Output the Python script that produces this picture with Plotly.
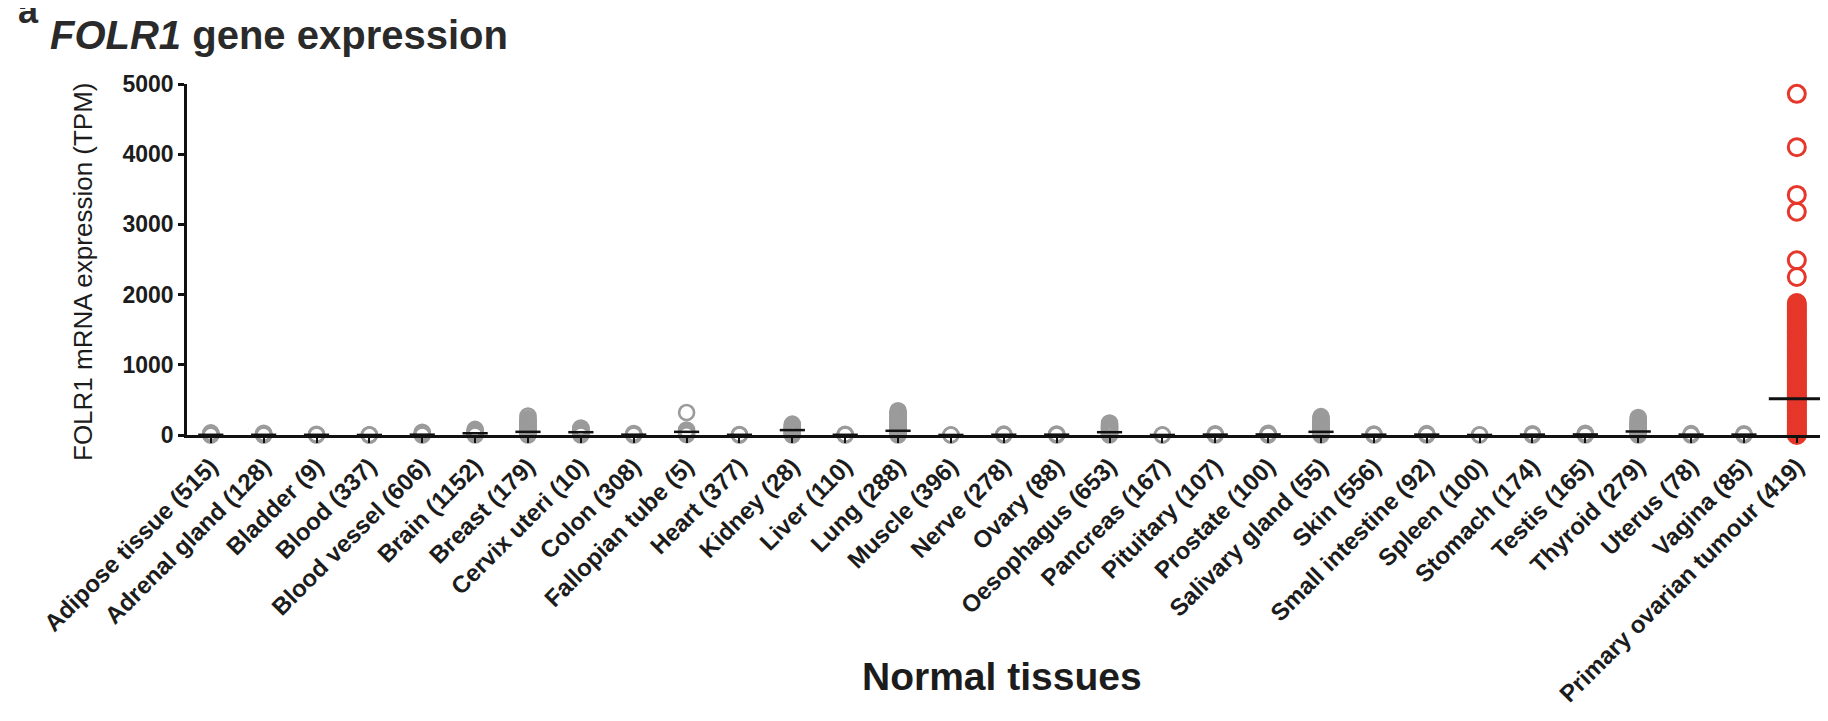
import plotly.graph_objects as go

# ---------------- data (TPM) ----------------
categories = [
    "Adipose tissue (515)", "Adrenal gland (128)", "Bladder (9)", "Blood (337)",
    "Blood vessel (606)", "Brain (1152)", "Breast (179)", "Cervix uteri (10)",
    "Colon (308)", "Fallopian tube (5)", "Heart (377)", "Kidney (28)", "Liver (110)",
    "Lung (288)", "Muscle (396)", "Nerve (278)", "Ovary (88)", "Oesophagus (653)",
    "Pancreas (167)", "Pituitary (107)", "Prostate (100)", "Salivary gland (55)",
    "Skin (556)", "Small intestine (92)", "Spleen (100)", "Stomach (174)",
    "Testis (165)", "Thyroid (279)", "Uterus (78)", "Vagina (85)",
    "Primary ovarian tumour (419)",
]

adipose = [0, 2, 5, 10, 18, 30]
adrenal = [0, 3, 8, 15, 25]
bladder = [0, 4, 10]
blood = [0, 1, 3]
blood_vessel = [0, 5, 12, 25, 40]
brain = [0, 10, 20, 35, 50, 65, 80]
breast = [0, 12, 25, 40, 52, 66, 80, 95, 108, 122, 136, 150, 165, 180, 195, 212, 235, 270]
cervix = [0, 12, 25, 40, 55, 70, 85, 100]
colon = [0, 5, 12, 22]
fallopian = [5, 20, 45, 70, 320]
heart = [0, 3, 8]
kidney = [0, 12, 25, 40, 55, 70, 85, 100, 115, 135, 155]
liver = [0, 4, 10]
lung = [0, 12, 25, 40, 55, 70, 85, 100, 115, 130, 145, 160, 175, 190, 205, 220,
        235, 250, 265, 280, 300, 320, 345]
muscle = [0, 2]
nerve = [0, 5, 12]
ovary = [0, 6, 15]
oesophagus = [0, 12, 25, 40, 55, 70, 85, 100, 115, 130, 150, 172]
pancreas = [0, 2]
pituitary = [0, 8, 18]
prostate = [0, 10, 25]
salivary = [0, 12, 25, 40, 55, 70, 85, 100, 115, 130, 145, 160, 175, 190, 205,
            220, 240, 262]
skin = [0, 6, 15]
small_intestine = [0, 8, 20]
spleen = [0, 3]
stomach = [0, 8, 18]
testis = [0, 10, 25]
thyroid = [0, 12, 25, 40, 55, 70, 85, 100, 115, 130, 145, 160, 175, 190, 205, 225, 250]
uterus = [0, 8, 20]
vagina = [0, 8, 18]

ovarian_tumour = [4860, 4100, 3420, 3180, 2490, 2250,
                  1880, 1850, 1820, 1790, 1760, 1735, 1705, 1680, 1650, 1620, 1595,
                  1570, 1540, 1510, 1485, 1460, 1430, 1400, 1375, 1350, 1320, 1295,
                  1270, 1240, 1215, 1190, 1160, 1135, 1110, 1080, 1055, 1030, 1000,
                  975, 950, 920, 895, 870, 840, 815, 790, 760, 735, 710, 680, 655,
                  630, 600, 575, 550, 520, 495, 470, 440, 415, 390, 360, 335, 310,
                  280, 255, 230, 200, 175, 150, 120, 95, 70, 45, 20, 0]

normal_series = [adipose, adrenal, bladder, blood, blood_vessel, brain, breast, cervix,
                 colon, fallopian, heart, kidney, liver, lung, muscle, nerve, ovary,
                 oesophagus, pancreas, pituitary, prostate, salivary, skin,
                 small_intestine, spleen, stomach, testis, thyroid, uterus, vagina]

normal_medians = [3, 3, 3, 1, 5, 25, 45, 40, 5, 45, 3, 70, 3, 60, 1, 4, 5, 40, 1, 6,
                  8, 45, 5, 6, 1, 6, 8, 50, 6, 6]
tumour_median = 515

y_ticks = [0, 1000, 2000, 3000, 4000, 5000]

# ---------------- figure ----------------
GRAY = "#9b9b9b"
RED = "#e5372a"
TXT = "#1c1c1c"

fig = go.Figure()

for i, vals in enumerate(normal_series):
    fig.add_trace(go.Scatter(
        x=[i] * len(vals), y=vals, mode="markers",
        marker=dict(symbol="circle-open", size=15, color=GRAY,
                    line=dict(width=2.6, color=GRAY)),
        cliponaxis=False, showlegend=False, hoverinfo="y"))

fig.add_trace(go.Scatter(
    x=[30] * len(ovarian_tumour), y=ovarian_tumour, mode="markers",
    marker=dict(symbol="circle-open", size=17, color=RED,
                line=dict(width=3, color=RED)),
    cliponaxis=False, showlegend=False, hoverinfo="y"))

# medians
fig.add_trace(go.Scatter(
    x=list(range(len(normal_medians))), y=normal_medians, mode="markers",
    marker=dict(symbol="line-ew", size=18, line=dict(width=2.5, color="#111111")),
    cliponaxis=False, showlegend=False, hoverinfo="skip"))
fig.add_trace(go.Scatter(
    x=[30], y=[tumour_median], mode="markers",
    marker=dict(symbol="line-ew", size=40, line=dict(width=3, color="#111111")),
    cliponaxis=False, showlegend=False, hoverinfo="skip"))

L, R, T, B = 179, 8, 76, 294
W, H = 1828, 721
pw, ph = W - L - R, H - T - B

def px_x(px):
    return (px - L) / pw

def px_y(py):
    return (H - B - py) / ph

fig.update_layout(
    width=W, height=H,
    margin=dict(l=L, r=R, t=T, b=B, autoexpand=False),
    paper_bgcolor="white", plot_bgcolor="white",
    font=dict(family="Liberation Sans, Arial, sans-serif", color=TXT),
    xaxis=dict(
        range=[-0.45, 30.59], tickmode="array", automargin=False,
        tickvals=list(range(len(categories))),
        ticktext=[f"<b>{c}</b>" for c in categories],
        tickangle=-45, tickfont=dict(size=24, color=TXT),
        ticklabeloverflow="allow",
        showline=True, linecolor="#111111", linewidth=2.5,
        ticks="outside", ticklen=5, tickwidth=2, tickcolor="#111111",
        showgrid=False, zeroline=False),
    yaxis=dict(
        range=[0, 5000], tickmode="array", tickvals=y_ticks, automargin=False,
        ticktext=[f"<b>{v}</b>" for v in y_ticks],
        tickfont=dict(size=23, color=TXT),
        showline=True, linecolor="#111111", linewidth=2.5,
        ticks="outside", ticklen=6, tickwidth=2.5, tickcolor="#111111",
        showgrid=False, zeroline=False),
)

fig.add_annotation(
    text="<b><i>FOLR1</i> gene expression</b>", xref="paper", yref="paper",
    x=px_x(40), y=px_y(27), xanchor="left", yanchor="middle", showarrow=False,
    font=dict(size=40, color="#2a2a2a"))
fig.add_annotation(
    text="<b>a</b>", xref="paper", yref="paper",
    x=px_x(8), y=px_y(25), xanchor="left", yanchor="bottom", showarrow=False,
    font=dict(size=36, color="#2a2a2a"))
fig.add_annotation(
    text="FOLR1 mRNA expression (TPM)", xref="paper", yref="paper",
    x=px_x(75), y=px_y(264), xanchor="center", yanchor="middle", textangle=-90,
    showarrow=False, font=dict(size=26, color=TXT))
fig.add_annotation(
    text="<b>Normal tissues</b>", xref="paper", yref="paper",
    x=px_x(994), y=px_y(668), xanchor="center", yanchor="middle",
    showarrow=False, font=dict(size=39, color=TXT))

fig.write_html("out.html")
